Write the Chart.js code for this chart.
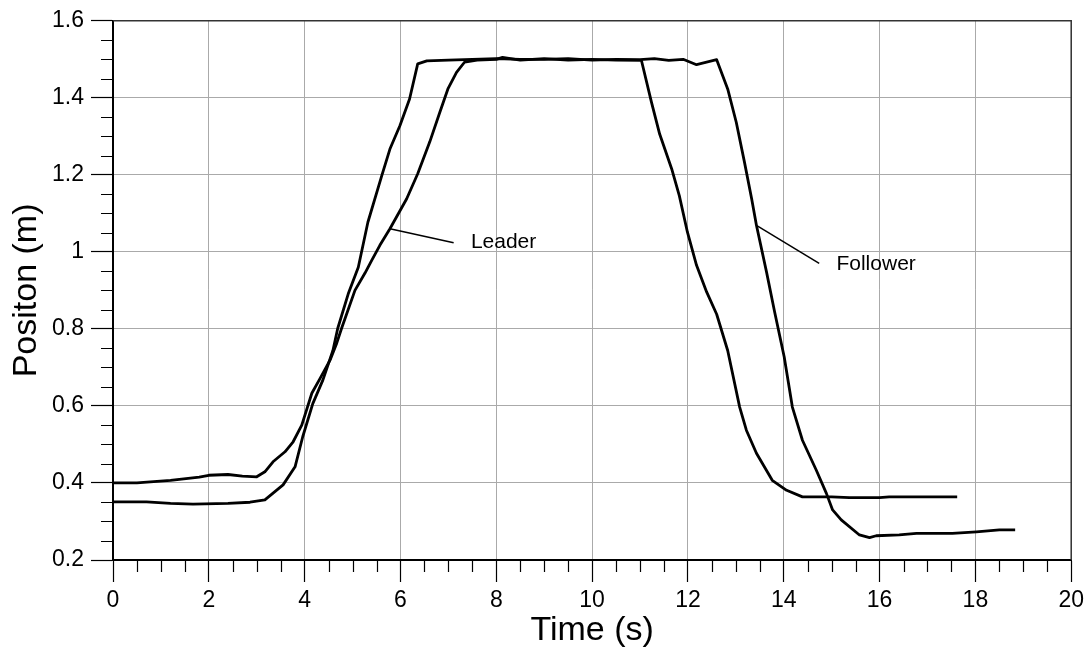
<!DOCTYPE html>
<html>
<head>
<meta charset="utf-8">
<title>Leader and Follower Position</title>
<script src="https://cdn.jsdelivr.net/npm/chart.js@4.4.1/dist/chart.umd.min.js"></script>
<style>
  html, body { margin: 0; padding: 0; background: #fff; }
  #wrap { width: 1089px; height: 647px; }
</style>
</head>
<body>
<div id="wrap"><canvas id="posChart" width="1089" height="647"></canvas></div>
<script>
// ===== Data =====

// Leader cart: time (s) and position (m)
const leaderTime = [0, 0.5, 1.2, 1.8, 2.0, 2.4, 2.7, 3.0, 3.17, 3.34, 3.59, 3.76, 3.94, 4.15, 4.32, 4.53, 4.67, 4.77, 5.05, 5.26, 5.40, 5.57, 5.78, 6.13, 6.36, 6.61, 6.82, 6.99, 7.17, 7.34, 7.6, 8.0, 8.13, 8.5, 9.0, 9.5, 10.0, 10.5, 11.03, 11.24, 11.41, 11.66, 11.82, 11.99, 12.18, 12.39, 12.6, 12.83, 13.08, 13.22, 13.43, 13.76, 14.06, 14.39, 15.0, 15.37, 16.0, 16.2, 17.0, 17.62];
const leaderPos = [0.400, 0.400, 0.407, 0.415, 0.420, 0.422, 0.418, 0.416, 0.429, 0.455, 0.481, 0.507, 0.550, 0.633, 0.671, 0.719, 0.763, 0.801, 0.900, 0.945, 0.978, 1.017, 1.060, 1.138, 1.203, 1.285, 1.362, 1.423, 1.466, 1.493, 1.498, 1.500, 1.505, 1.498, 1.502, 1.498, 1.500, 1.498, 1.497, 1.388, 1.306, 1.216, 1.146, 1.051, 0.965, 0.896, 0.838, 0.744, 0.597, 0.537, 0.477, 0.407, 0.381, 0.364, 0.364, 0.362, 0.362, 0.364, 0.364, 0.364];

// Follower cart: time (s) and position (m)
const followerTime = [0, 0.7, 1.2, 1.67, 2.4, 2.86, 3.17, 3.55, 3.80, 3.96, 4.17, 4.38, 4.59, 4.69, 4.91, 5.12, 5.32, 5.61, 5.78, 5.99, 6.19, 6.36, 6.55, 7.0, 7.5, 8.0, 8.5, 9.0, 9.5, 10.0, 10.5, 11.0, 11.3, 11.6, 11.9, 12.18, 12.6, 12.83, 13.01, 13.18, 13.33, 13.43, 13.64, 13.81, 14.01, 14.18, 14.39, 14.68, 14.89, 15.02, 15.2, 15.58, 15.79, 15.93, 16.41, 16.77, 17.52, 18.02, 18.5, 18.83];
const followerPos = [0.351, 0.351, 0.347, 0.345, 0.347, 0.350, 0.356, 0.395, 0.442, 0.520, 0.606, 0.667, 0.744, 0.801, 0.891, 0.960, 1.077, 1.198, 1.267, 1.328, 1.397, 1.488, 1.496, 1.498, 1.500, 1.502, 1.500, 1.500, 1.502, 1.498, 1.500, 1.499, 1.502, 1.497, 1.500, 1.486, 1.499, 1.423, 1.336, 1.233, 1.138, 1.069, 0.948, 0.844, 0.727, 0.597, 0.511, 0.433, 0.373, 0.330, 0.304, 0.265, 0.258, 0.263, 0.265, 0.269, 0.269, 0.273, 0.278, 0.278];

// Axis tick labels
const timeTicks = [0, 2, 4, 6, 8, 10, 12, 14, 16, 18, 20];
const posTicks = [0.2, 0.4, 0.6, 0.8, 1, 1.2, 1.4, 1.6];

// ===== Helpers =====

const FONT = "'Liberation Sans', Arial, sans-serif";

function toPoints(times, values) {
  return times.map((t, i) => ({ x: t, y: values[i] }));
}

// Callouts: text plus pointer line, given in axis units
const callouts = [
  { text: "Leader", from: [5.78, 1.06], to: [7.11, 1.024], at: [7.47, 1.024] },
  { text: "Follower", from: [13.43, 1.069], to: [14.74, 0.97], at: [15.1, 0.967] }
];

// Minor ticks, chart frame and callouts
const extras = {
  id: "extras",
  afterDraw(chart) {
    const { ctx, chartArea: a, scales: { x, y } } = chart;
    ctx.save();

    // top and right edge of the plot frame
    ctx.strokeStyle = "#333";
    ctx.lineWidth = 1.5;
    ctx.beginPath();
    ctx.moveTo(a.left, a.top);
    ctx.lineTo(a.right, a.top);
    ctx.lineTo(a.right, a.bottom);
    ctx.stroke();

    // minor ticks: every 0.5 s and every 0.05 m
    ctx.strokeStyle = "#000";
    ctx.lineWidth = 1.2;
    ctx.beginPath();
    for (let i = 0; i <= 40; i++) {
      if (i % 4 === 0) continue;
      const px = Math.round(x.getPixelForValue(i * 0.5)) + 0.5;
      ctx.moveTo(px, a.bottom);
      ctx.lineTo(px, a.bottom + 12);
    }
    for (let i = 4; i <= 32; i++) {
      if (i % 4 === 0) continue;
      const py = Math.round(y.getPixelForValue(i * 0.05)) + 0.5;
      ctx.moveTo(a.left - 12, py);
      ctx.lineTo(a.left, py);
    }
    ctx.stroke();

    // callouts
    ctx.lineWidth = 1.5;
    ctx.fillStyle = "#000";
    ctx.font = "21px " + FONT;
    ctx.textBaseline = "middle";
    ctx.textAlign = "left";
    callouts.forEach(c => {
      ctx.beginPath();
      ctx.moveTo(x.getPixelForValue(c.from[0]), y.getPixelForValue(c.from[1]));
      ctx.lineTo(x.getPixelForValue(c.to[0]), y.getPixelForValue(c.to[1]));
      ctx.stroke();
      ctx.fillText(c.text, x.getPixelForValue(c.at[0]), y.getPixelForValue(c.at[1]));
    });

    ctx.restore();
  }
};

// ===== Chart =====

const lineStyle = {
  showLine: true,
  borderColor: "#000",
  borderWidth: 2.8,
  pointRadius: 0,
  fill: false,
  tension: 0,
  borderJoinStyle: "round"
};

const ctx = document.getElementById("posChart").getContext("2d");
const posChart = new Chart(ctx, {
  type: "scatter",
  data: {
    datasets: [
      { label: "Leader", data: toPoints(leaderTime, leaderPos), ...lineStyle },
      { label: "Follower", data: toPoints(followerTime, followerPos), ...lineStyle }
    ]
  },
  options: {
    responsive: false,
    animation: false,
    layout: { padding: { top: 20, right: 16, left: 0, bottom: 0 } },
    plugins: {
      legend: { display: false },
      tooltip: { enabled: false }
    },
    scales: {
      x: {
        type: "linear",
        min: 0,
        max: 20,
        afterBuildTicks: s => { s.ticks = timeTicks.map(v => ({ value: v })); },
        afterFit: s => { s.height = 87; },
        ticks: {
          color: "#000",
          font: { family: FONT, size: 23 },
          padding: 5,
          maxRotation: 0,
          callback: v => String(v)
        },
        grid: { color: "#aaa", lineWidth: 1, tickColor: "#000", tickLength: 22, tickWidth: 1.2 },
        border: { color: "#000", width: 2 },
        title: {
          display: true,
          text: "Time (s)",
          color: "#000",
          font: { family: FONT, size: 34 },
          padding: { top: 0, bottom: -4 }
        }
      },
      y: {
        type: "linear",
        min: 0.2,
        max: 1.6,
        afterBuildTicks: s => { s.ticks = posTicks.map(v => ({ value: v })); },
        afterFit: s => { s.width = 113; },
        ticks: {
          color: "#000",
          font: { family: FONT, size: 23 },
          padding: 7,
          callback: v => String(v)
        },
        grid: { color: "#aaa", lineWidth: 1, tickColor: "#000", tickLength: 22, tickWidth: 1.2 },
        border: { color: "#000", width: 2 },
        title: {
          display: true,
          text: "Positon (m)",
          color: "#000",
          font: { family: FONT, size: 34 },
          padding: { top: 6, bottom: 0 }
        }
      }
    }
  },
  plugins: [extras]
});
</script>
</body>
</html>
